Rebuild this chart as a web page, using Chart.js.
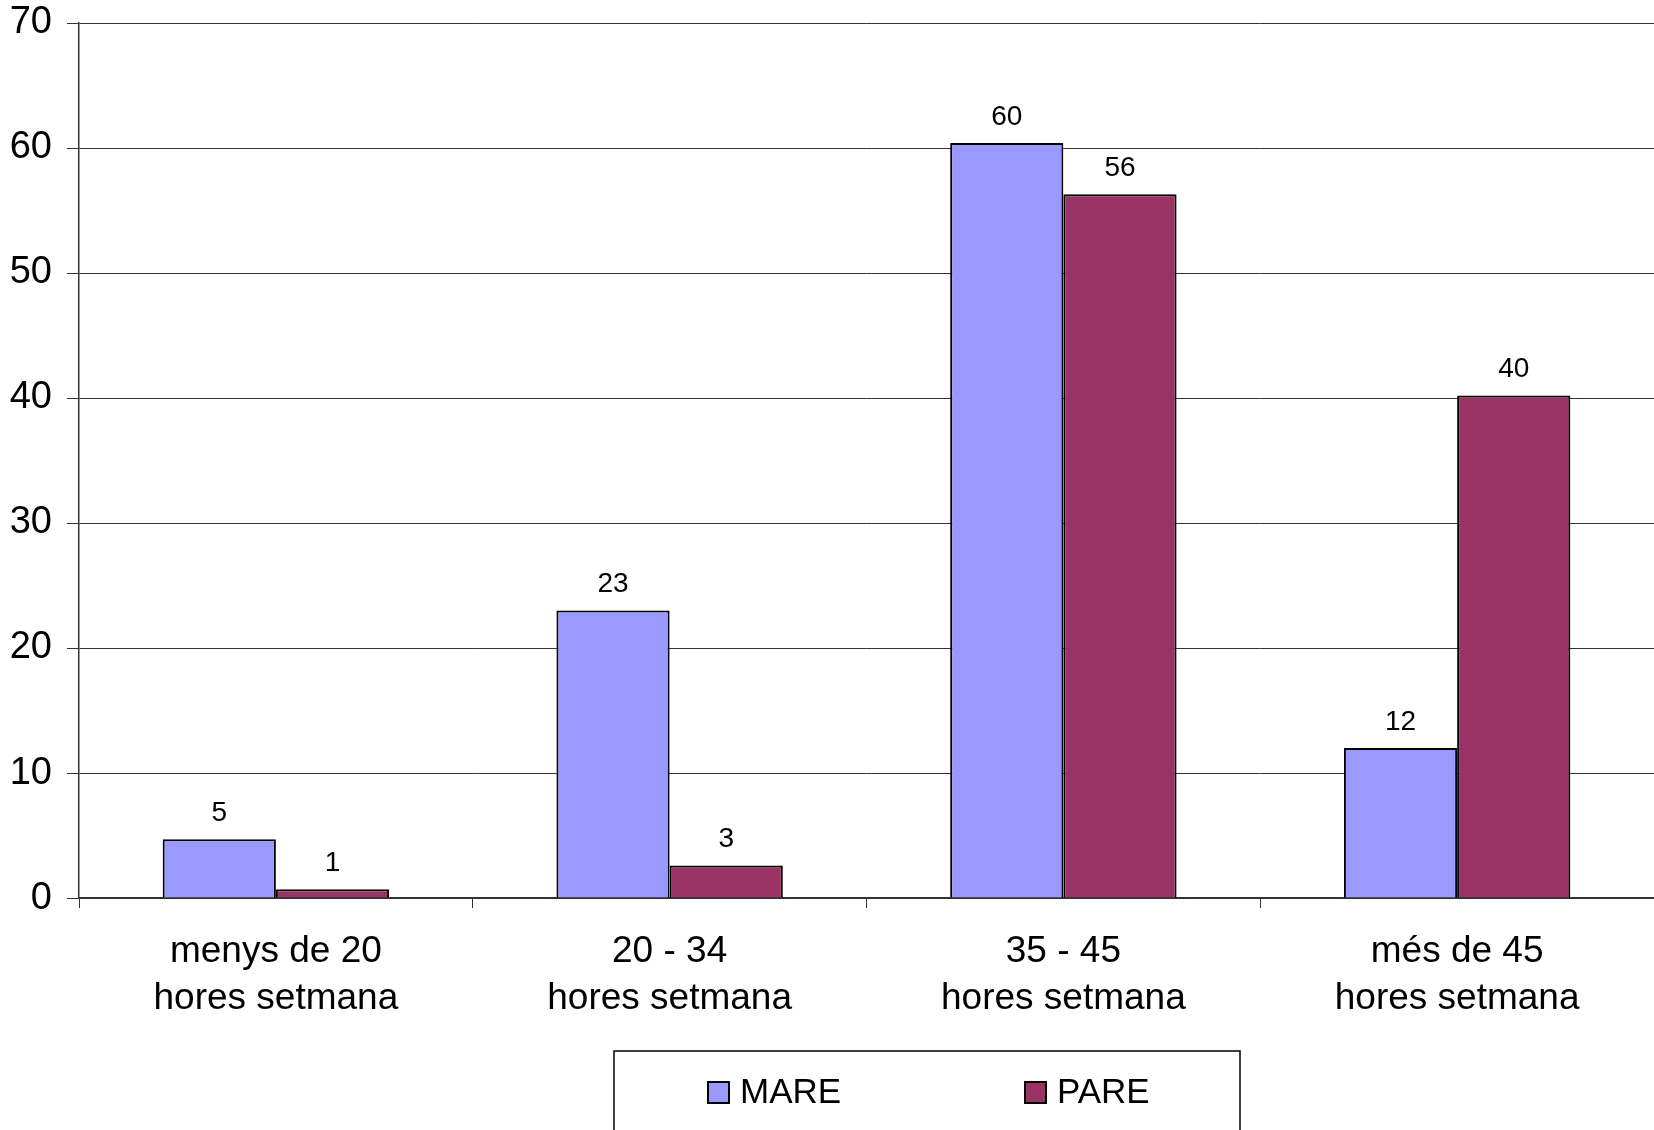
<!DOCTYPE html>
<html>
<head>
<meta charset="utf-8">
<script src="https://cdn.jsdelivr.net/npm/chart.js@4.4.0/dist/chart.umd.min.js"></script>
<style>
  html, body { margin: 0; padding: 0; background: #fff; }
  #wrap { width: 1654px; height: 1130px; }
</style>
</head>
<body>
<div id="wrap"><canvas id="chart" width="1654" height="1130"></canvas></div>
<script>
// categories (two lines each) and series
const categories = [
  ['menys de 20', 'hores setmana'],
  ['20 - 34', 'hores setmana'],
  ['35 - 45', 'hores setmana'],
  ['més de 45', 'hores setmana']
];
const mareValues = [4.7, 23.0, 60.4, 12.0];
const pareValues = [0.7, 2.6, 56.3, 40.2];
const seriesNames = ['MARE', 'PARE'];
const yTicks = [0, 10, 20, 30, 40, 50, 60, 70];

const FONT = 'Liberation Sans, Arial, sans-serif';

// etiquetes de valor sobre cada barra
const valueLabels = {
  id: 'valueLabels',
  afterDatasetsDraw(chart) {
    const ctx = chart.ctx;
    ctx.save();
    ctx.font = '28px ' + FONT;
    ctx.fillStyle = '#000';
    ctx.textAlign = 'center';
    ctx.textBaseline = 'bottom';
    chart.data.datasets.forEach((ds, i) => {
      chart.getDatasetMeta(i).data.forEach((bar, j) => {
        ctx.fillText(String(Math.round(ds.data[j])), bar.x, bar.y - 12);
      });
    });
    ctx.restore();
  }
};

// llegenda amb marc, dibuixada a partir dels datasets
const boxedLegend = {
  id: 'boxedLegend',
  afterDraw(chart) {
    const ctx = chart.ctx;
    const left = chart.chartArea.left + 535;
    const top = 1051;
    const w = 626;
    ctx.save();
    ctx.strokeStyle = '#000';
    ctx.lineWidth = 1.5;
    ctx.strokeRect(left, top, w, 120);
    ctx.font = '35px ' + FONT;
    ctx.textBaseline = 'middle';
    ctx.textAlign = 'left';
    const itemX = [left + 94, left + 411];
    const midY = 1092;
    chart.data.datasets.forEach((ds, i) => {
      const x = itemX[i];
      ctx.fillStyle = ds.backgroundColor;
      ctx.fillRect(x, midY - 10, 21, 21);
      ctx.strokeStyle = '#000';
      ctx.lineWidth = 2;
      ctx.strokeRect(x, midY - 10, 21, 21);
      ctx.fillStyle = '#000';
      ctx.fillText(ds.label, x + 32, midY + 1);
    });
    ctx.restore();
  }
};

new Chart(document.getElementById('chart'), {
  type: 'bar',
  data: {
    labels: categories,
    datasets: [
      {
        label: seriesNames[0],
        data: mareValues,
        backgroundColor: '#9999FF',
        borderColor: '#000',
        borderWidth: 2
      },
      {
        label: seriesNames[1],
        data: pareValues,
        backgroundColor: '#993366',
        borderColor: '#000',
        borderWidth: 2
      }
    ]
  },
  options: {
    responsive: false,
    animation: false,
    devicePixelRatio: 1,
    layout: { padding: { left: 0, right: -4, top: 0, bottom: 88 } },
    plugins: {
      legend: { display: false },
      tooltip: { enabled: false }
    },
    datasets: {
      bar: { categoryPercentage: 0.575, barPercentage: 1.0 }
    },
    scales: {
      x: {
        offset: true,
        grid: {
          offset: true,
          drawOnChartArea: false,
          drawTicks: true,
          tickLength: 10,
          color: '#333'
        },
        border: { color: '#333', width: 1.5 },
        ticks: {
          color: '#000',
          font: { family: FONT, size: 37, lineHeight: 1.27 },
          padding: 20,
          maxRotation: 0
        }
      },
      y: {
        min: 0,
        max: 70,
        afterBuildTicks(scale) {
          scale.ticks = yTicks.map(v => ({ value: v }));
        },
        afterFit(scale) {
          scale.width = 79;
          scale.paddingTop = 23;
          scale.paddingBottom = 0;
        },
        grid: {
          color: '#333',
          lineWidth: 1,
          drawTicks: true,
          tickLength: 12
        },
        border: { color: '#333', width: 1.5 },
        ticks: {
          color: '#000',
          font: { family: FONT, size: 38 },
          padding: 15
        }
      }
    }
  },
  plugins: [valueLabels, boxedLegend]
});
</script>
</body>
</html>
